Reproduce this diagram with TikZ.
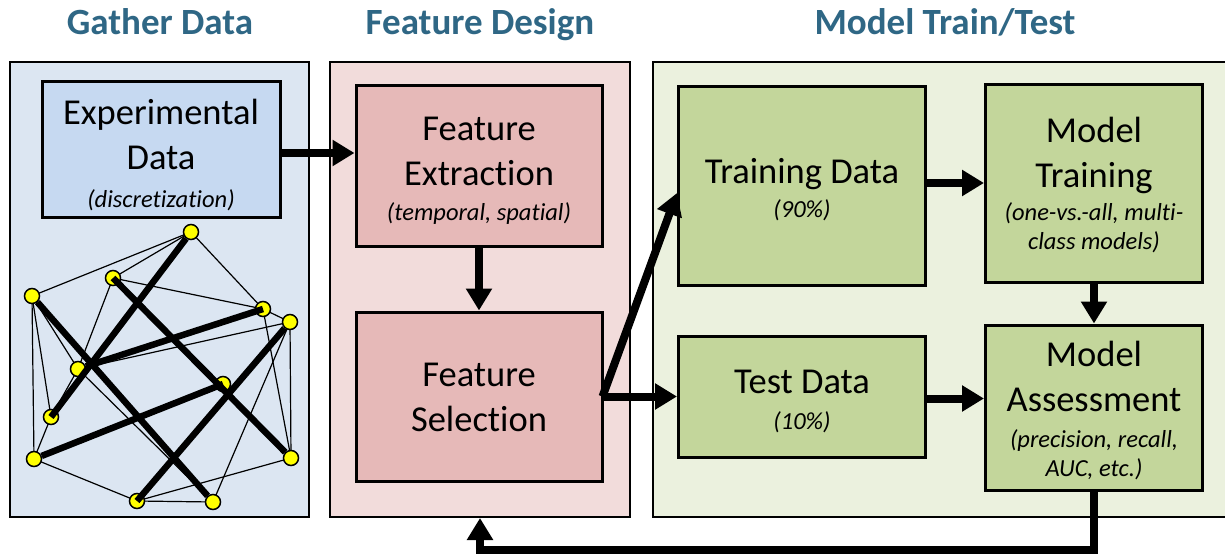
\documentclass[tikz,border=0pt]{standalone}
\usepackage{fontspec}
\setmainfont{Carlito}[Ligatures=NoCommon]
\usetikzlibrary{arrows.meta,calc}

\definecolor{titleblue}{RGB}{47,103,133}
\definecolor{gatherbg}{RGB}{220,230,242}
\definecolor{gatherbox}{RGB}{198,217,241}
\definecolor{featbg}{RGB}{242,220,219}
\definecolor{featbox}{RGB}{230,185,184}
\definecolor{modelbg}{RGB}{235,241,222}
\definecolor{modelbox}{RGB}{195,214,155}
\definecolor{vertexfill}{RGB}{255,255,0}

% smaller italic note under a box heading
\newcommand{\boxnote}[1]{{\fontsize{24.5}{29}\selectfont\itshape #1}}

\begin{document}
\begin{tikzpicture}[x=1pt,y=-1pt,
  panel/.style={draw=black, line width=2pt, inner sep=0pt},
  stagebox/.style={draw=black, line width=3pt, inner sep=0pt},
  boxtext/.style={align=center, inner sep=0pt, font=\fontsize{36.5}{45}\selectfont},
  stagetitle/.style={text=titleblue, font=\fontsize{37}{45}\selectfont\bfseries, anchor=base},
  flow/.style={line width=8pt, -{Triangle[length=22pt,width=25pt]}},
  vertex/.style={circle, draw=black, fill=vertexfill, line width=1.5pt,
    minimum size=15pt, inner sep=0pt},
  thinedge/.style={line width=1.2pt},
  thickedge/.style={line width=6.5pt}
]
\useasboundingbox (0,0) rectangle (1225,556);

% stage titles
\node[stagetitle] (t1) at (160,35) {Gather Data};
\node[stagetitle] (t2) at (480,35) {Feature Design};
\node[stagetitle] (t3) at (945,35) {Model Train/Test};

% stage panels
\node[panel, fill=gatherbg, minimum width=299pt, minimum height=455pt] (gp) at (159.5,289.5) {};
\node[panel, fill=featbg, minimum width=300pt, minimum height=455pt] (fp) at (480,289.5) {};
\node[panel, fill=modelbg, minimum width=600pt, minimum height=455pt] (mp) at (953,289.5) {};

% process boxes
\node[stagebox, fill=gatherbox, minimum width=238pt, minimum height=135pt] (exp) at (161,149.5) {};
\node[stagebox, fill=featbox, minimum width=246pt, minimum height=160pt] (fe) at (479,166) {};
\node[stagebox, fill=featbox, minimum width=246pt, minimum height=169pt] (fs) at (479,396.5) {};
\node[stagebox, fill=modelbox, minimum width=247pt, minimum height=198pt] (td) at (802,186) {};
\node[stagebox, fill=modelbox, minimum width=217pt, minimum height=197pt] (mt) at (1094,183.5) {};
\node[stagebox, fill=modelbox, minimum width=247pt, minimum height=121pt] (testd) at (802,396.5) {};
\node[stagebox, fill=modelbox, minimum width=217pt, minimum height=165pt] (ma) at (1094,407.5) {};

% box texts
\node[boxtext] (exp-text) at ([yshift=-5.5pt]exp.center)
  {Experimental\\Data\\[-7pt]\boxnote{(discretization)}};
\node[boxtext] (fe-text) at ([yshift=-5pt]fe.center)
  {Feature\\Extraction\\[-10pt]\boxnote{(temporal, spatial)}};
\node[boxtext] (fs-text) at ([yshift=-1pt]fs.center)
  {Feature\\Selection};
\node[boxtext] (td-text) at ([yshift=-4pt]td.center)
  {Training Data\\[-11pt]\boxnote{(90\%)}};
\node[boxtext] (mt-text) at ([yshift=-2pt]mt.center)
  {Model\\Training\\[-12pt]\boxnote{(one-vs.-all, multi-}\\[-16pt]\boxnote{class models)}};
\node[boxtext] (testd-text) at ([yshift=-5pt]testd.center)
  {Test Data\\[-9pt]\boxnote{(10\%)}};
\node[boxtext] (ma-text) at ([yshift=-3.5pt]ma.center)
  {Model\\Assessment\\[-9pt]\boxnote{(precision, recall,}\\[-16pt]\boxnote{AUC, etc.)}};

% data graph vertices
\coordinate (pA) at (191,232);
\coordinate (pB) at (113,278);
\coordinate (pC) at (32,296);
\coordinate (pD) at (263,309);
\coordinate (pE) at (290,322);
\coordinate (pF) at (78,369);
\coordinate (pG) at (223,384);
\coordinate (pH) at (51,417);
\coordinate (pI) at (34,459);
\coordinate (pJ) at (291,458);
\coordinate (pK) at (137,501);
\coordinate (pL) at (213,502);

% light edges
\foreach \u/\v in {A/C, A/B, A/D, B/D, B/F, C/I, C/H, C/F, F/H, H/I, F/L, I/K,
                   D/E, D/J, E/J, E/F, E/L, J/K, K/L}
  \draw[thinedge] (p\u) -- (p\v);

\foreach \n in {A,B,C,D,E,F,G,H,I,J,K,L}
  \node[vertex] (\n) at (p\n) {};

% heavy edges
\draw[thickedge] (A) -- (H.center);
\draw[thickedge] (C) -- (L);
\draw[thickedge] (B.center) -- (J);
\draw[thickedge] (F) -- (D.center);
\draw[thickedge] (I) -- (G.center);
\draw[thickedge] (E) -- (K.center);

% flow arrows
\draw[flow] ([yshift=-3.5pt]exp.east) -- ([yshift=-3.5pt]exp.east -| fe.west);
\draw[flow] (fe.south) -- (fs.north);
\coordinate (split) at ([xshift=-1pt]fs.east);
\draw[flow] (split) -- ([yshift=-7pt]td.west);
\draw[flow] (split) -- (split -| testd.west);
\draw[flow] ([yshift=3pt]td.east) -- ([yshift=3pt]td.east -| mt.west);
\draw[flow] ([yshift=-2pt]testd.east) -- ([yshift=-2pt]testd.east -| ma.west);
\draw[flow] (mt.south) -- (ma.north);
\draw[flow] (ma.south) -- ++(0,58) -| (fp.south);
\end{tikzpicture}
\end{document}
